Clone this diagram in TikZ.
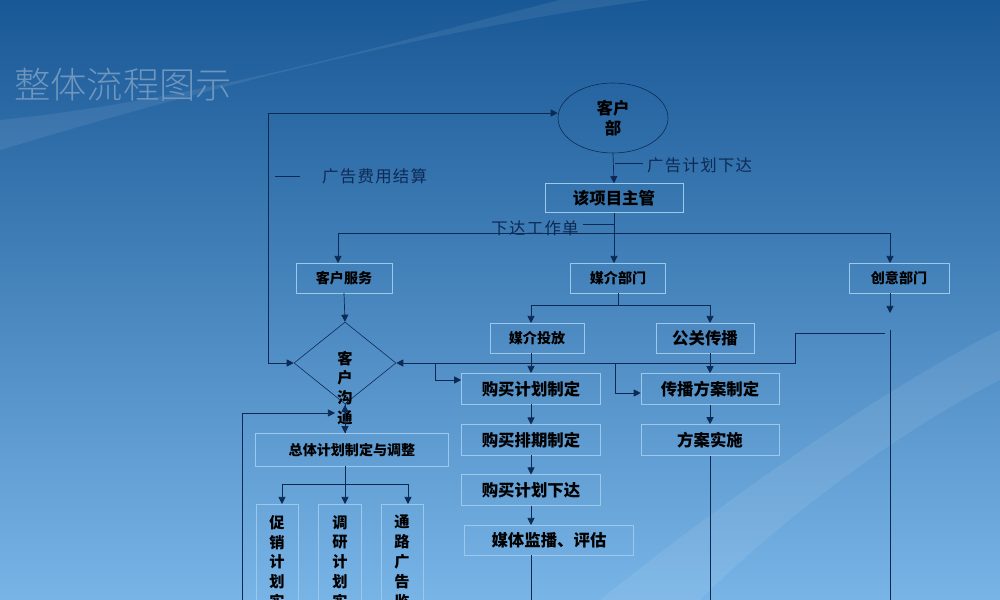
\documentclass[tikz,border=0pt]{standalone}
\usepackage{fontspec}
\newfontfamily\cjk{Noto Sans CJK SC}
\newfontfamily\cjkl[LetterSpace=8]{Noto Sans CJK SC}
\newfontfamily\cjkt{Noto Sans CJK SC Light}
\usetikzlibrary{shapes.geometric,arrows.meta}
\definecolor{ln}{HTML}{0D2A55}
\definecolor{bx}{HTML}{9CC8EC}
\tikzset{
 box/.style={draw=bx,line width=0.5pt,inner sep=0pt,font=\cjk\bfseries,text=black},
 con/.style={draw=ln,line width=0.6pt},
 arr/.style={con,-{Triangle[length=6pt,width=6pt]}},
 lab/.style={font=\cjkl\fontsize{14}{14}\selectfont,text=ln},
 vt/.style={font=\cjk\bfseries\fontsize{13}{17}\selectfont,align=center,anchor=north}
}
\begin{document}
\begin{tikzpicture}[x=0.03cm,y=-0.03cm]
\useasboundingbox (0,0) rectangle (1000,600);
\clip (0,0) rectangle (1000,600);
\shade[top color={rgb,255:red,25;green,88;blue,150},bottom color={rgb,255:red,120;green,180;blue,230}] (0,0) rectangle (1000,600);
\fill[white,opacity=0.08] (0,150) .. controls (300,60) and (500,20) .. (650,0) -- (560,0) .. controls (400,40) and (200,100) .. (0,120) -- cycle;
\fill[white,opacity=0.08] (600,600) .. controls (750,480) and (900,380) .. (1000,330) -- (1000,380) .. controls (900,430) and (780,520) .. (700,600) -- cycle;
\node[font=\cjkt\fontsize{31}{31}\selectfont,text={rgb,255:red,110;green,150;blue,190},anchor=west] (title) at (10,85) {整体流程图示};
% nodes
\node[ellipse,draw=ln,line width=0.5pt,minimum width=110*0.03cm,minimum height=70*0.03cm,font=\cjk\bfseries\fontsize{14}{17}\selectfont,align=center,inner sep=0pt] (kh) at (613,118) {客户\\部};
\node[box,minimum width=138*0.03cm,minimum height=29*0.03cm,font=\cjk\bfseries\fontsize{14}{14}\selectfont] (zg) at (614,198) {该项目主管};
\node[box,minimum width=96*0.03cm,minimum height=30*0.03cm,font=\cjk\bfseries\fontsize{12}{12}\selectfont] (fw) at (344,278) {客户服务};
\node[box,minimum width=95*0.03cm,minimum height=30*0.03cm,font=\cjk\bfseries\fontsize{12}{12}\selectfont] (mj) at (618,278) {媒介部门};
\node[box,minimum width=100*0.03cm,minimum height=30*0.03cm,font=\cjk\bfseries\fontsize{12}{12}\selectfont] (cy) at (899,278) {创意部门};
\node[diamond,draw=ln,line width=0.5pt,minimum width=102*0.03cm,minimum height=82*0.03cm,inner sep=0pt] (gt) at (345,363) {};
\node[font=\cjk\bfseries\fontsize{13}{17}\selectfont,align=center] (gtt) at (345,388) {客\\户\\沟\\通};
\node[box,minimum width=94*0.03cm,minimum height=30*0.03cm,font=\cjk\bfseries\fontsize{12}{12}\selectfont] (tf) at (537,338) {媒介投放};
\node[box,minimum width=98*0.03cm,minimum height=30*0.03cm,font=\cjk\bfseries\fontsize{14}{14}\selectfont] (gg) at (705,338) {公关传播};
\node[box,minimum width=139*0.03cm,minimum height=31*0.03cm,font=\cjk\bfseries\fontsize{14}{14}\selectfont] (b1) at (531,389) {购买计划制定};
\node[box,minimum width=139*0.03cm,minimum height=31*0.03cm,font=\cjk\bfseries\fontsize{14}{14}\selectfont] (b2) at (531,440) {购买排期制定};
\node[box,minimum width=139*0.03cm,minimum height=31*0.03cm,font=\cjk\bfseries\fontsize{14}{14}\selectfont] (b3) at (531,490) {购买计划下达};
\node[box,minimum width=169*0.03cm,minimum height=30*0.03cm,font=\cjk\bfseries\fontsize{14}{14}\selectfont] (b4) at (549,540) {媒体监播、评估};
\node[box,minimum width=138*0.03cm,minimum height=31*0.03cm,font=\cjk\bfseries\fontsize{14}{14}\selectfont] (c1) at (710,389) {传播方案制定};
\node[box,minimum width=138*0.03cm,minimum height=31*0.03cm,font=\cjk\bfseries\fontsize{14}{14}\selectfont] (c2) at (710,440) {方案实施};
\node[box,minimum width=193*0.03cm,minimum height=33*0.03cm,font=\cjk\bfseries\fontsize{12}{12}\selectfont] (zt) at (352,450) {总体计划制定与调整};
\node[box,minimum width=42*0.03cm,minimum height=130*0.03cm,anchor=north] (p1) at (277,504) {};
\node[box,minimum width=43*0.03cm,minimum height=130*0.03cm,anchor=north] (p2) at (340,504) {};
\node[box,minimum width=42*0.03cm,minimum height=130*0.03cm,anchor=north] (p3) at (402,504) {};
\node[vt] (t1) at (277,511) {促\\销\\计\\划\\实};
\node[vt] (t2) at (340,511) {调\\研\\计\\划\\实};
\node[vt] (t3) at (402,511) {通\\路\\广\\告\\监};
% connectors
\draw[arr] (kh.south) -- (zg.north);
\draw[con] (615,163) -- (643,163);
\node[lab,anchor=west] (l1) at (643,165) {广告计划下达};
\coordinate (j1) at (614,233);
\draw[arr] (zg.south) -- (614,263);
\draw[arr] (j1) -- (338,233) -- (338,263);
\draw[arr] (j1) -- (890,233) -- (890,263);
\draw[con] (583,224) -- (614,224);
\node[lab] (l2) at (535,228) {下达工作单};
\draw[arr] (344,293) -- (gt.north);
\coordinate (j2) at (618,305);
\draw[con] (mj.south) -- (j2);
\draw[arr] (j2) -- (531,305) -- (531,323);
\draw[arr] (j2) -- (710,305) -- (710,323);
\draw[arr] (531,353) -- (531,373);
\draw[arr] (710,353) -- (c1.north);
\draw[arr] (531,404.5) -- (531,424.5);
\draw[arr] (531,455.5) -- (531,474.5);
\draw[arr] (531,505.5) -- (531,525);
\draw[con] (531,555) -- (531,600);
\draw[arr] (c1.south) -- (c2.north);
\draw[con] (c2.south) -- (710,600);
% loops
\draw[arr] (268,363) -- (268,113) -- (kh.west|-0,113);
\draw[arr] (268,363) -- (gt.west);
\draw[con] (275,176) -- (300,176);
\node[lab,anchor=west] (l3) at (318,176) {广告费用结算};
\coordinate (j3) at (795,363);
\draw[arr] (885,333) -- (795,333) -- (j3) -- (gt.east);
\draw[arr] (890,293) -- (890,313);
\draw[con] (890,330) -- (890,600);
\draw[arr] (435,363) -- (435,380) -- (b1.west|-0,380);
\draw[arr] (615,363) -- (615,393) -- (c1.west|-0,393);
\draw[arr] (gt.south) -- (zt.north-|gt.south);
\draw[arr] (345,433) -- (345,405);
\draw[arr] (242,600) -- (242,413) -- (335,413);
\coordinate (j4) at (345,484);
\draw[con] (345,466.5) -- (j4);
\draw[arr] (j4) -- (282,484) -- (282,504);
\draw[arr] (j4) -- (345,504);
\draw[arr] (j4) -- (408,484) -- (408,504);
\end{tikzpicture}
\end{document}
